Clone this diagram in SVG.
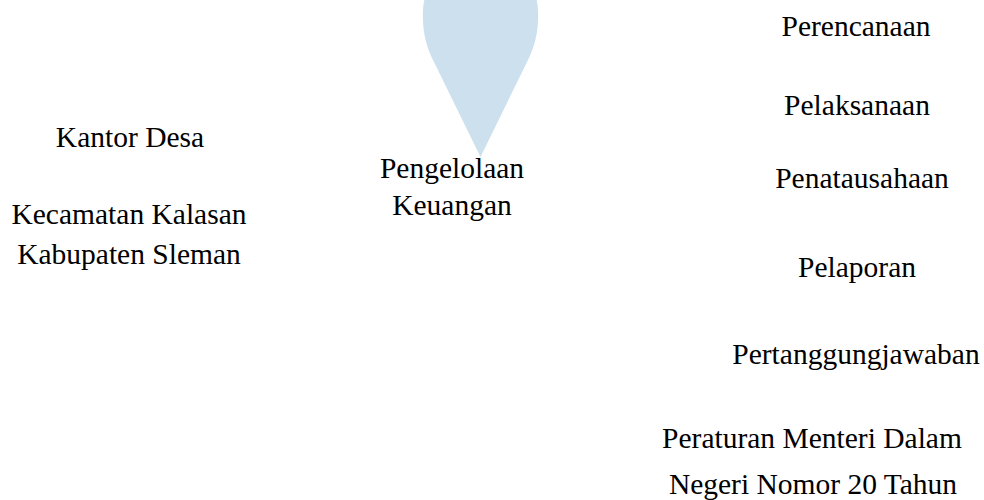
<svg xmlns="http://www.w3.org/2000/svg" width="984" height="500" viewBox="0 0 984 500">
  <style>
    .lbl { font-family: "Liberation Serif", "Times New Roman", serif; font-size: 29.5px; fill: #000; text-anchor: middle; }
    .drop { fill: #cde0ed; }
  </style>
  <rect width="984" height="500" fill="#ffffff"/>

  <!-- teardrop pointing at the central node -->
  <g id="drop">
    <path class="drop" d="M480.5 157 L433 60 C426 46 422 30 423 10 C424 -20 450 -40 480.5 -40 C511 -40 537 -20 538 10 C539 30 535 46 528 60 Z"/>
  </g>

  <g id="connectors"></g>

  <g id="kantor-desa">
    <text class="lbl" x="130" y="147">Kantor Desa</text>
  </g>
  <g id="kecamatan">
    <text class="lbl" x="129" y="224">Kecamatan Kalasan</text>
    <text class="lbl" x="129" y="264">Kabupaten Sleman</text>
  </g>
  <g id="pengelolaan">
    <text class="lbl" x="452" y="178">Pengelolaan</text>
    <text class="lbl" x="452" y="215">Keuangan</text>
  </g>
  <g id="perencanaan">
    <text class="lbl" x="856" y="36">Perencanaan</text>
  </g>
  <g id="pelaksanaan">
    <text class="lbl" x="857" y="115">Pelaksanaan</text>
  </g>
  <g id="penatausahaan">
    <text class="lbl" x="862" y="188">Penatausahaan</text>
  </g>
  <g id="pelaporan">
    <text class="lbl" x="857" y="277">Pelaporan</text>
  </g>
  <g id="pertanggungjawaban">
    <text class="lbl" x="856" y="364">Pertanggungjawaban</text>
  </g>
  <g id="permendagri">
    <text class="lbl" x="812" y="448">Peraturan Menteri Dalam</text>
    <text class="lbl" x="813" y="494">Negeri Nomor 20 Tahun</text>
  </g>
</svg>
